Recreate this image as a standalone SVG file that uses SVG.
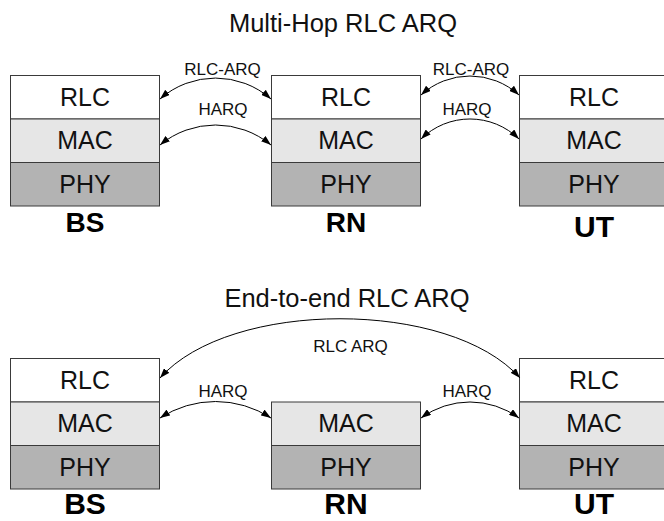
<svg xmlns="http://www.w3.org/2000/svg" width="664" height="521" viewBox="0 0 664 521">
<style>
.rlc{fill:#ffffff;stroke:#3a3a3a;stroke-width:1}
.mac{fill:#e6e6e6;stroke:#3a3a3a;stroke-width:1}
.phy{fill:#b3b3b3;stroke:#3a3a3a;stroke-width:1}
.t{font-family:"Liberation Sans",Arial,sans-serif;font-size:25px;fill:#111;text-anchor:middle}
.title{font-family:"Liberation Sans",Arial,sans-serif;font-size:25.5px;fill:#111;text-anchor:middle}
.lbl{font-family:"Liberation Sans",Arial,sans-serif;font-size:17px;fill:#111;text-anchor:middle}
.name{font-family:"Liberation Sans",Arial,sans-serif;font-size:28px;font-weight:bold;fill:#000;text-anchor:middle}
.arc{fill:none;stroke:#000;stroke-width:1;marker-start:url(#ah);marker-end:url(#ah)}
</style>
<defs>
<marker id="ah" markerUnits="userSpaceOnUse" markerWidth="10" markerHeight="7" refX="10" refY="3.5" orient="auto-start-reverse">
<path d="M0,0 L10,3.5 L0,7 z" fill="#000"/>
</marker>
</defs>
<rect width="664" height="521" fill="#fff"/>
<text class="title" x="343" y="32">Multi-Hop RLC ARQ</text>
<text class="title" x="347" y="306.5">End-to-end RLC ARQ</text>

<g id="bs-top">
<rect class="rlc" x="10.5" y="75.5" width="149" height="43.5"/>
<rect class="mac" x="10.5" y="119" width="149" height="43.5"/>
<rect class="phy" x="10.5" y="162.5" width="149" height="43.5"/>
<text class="t" x="85" y="105.5">RLC</text>
<text class="t" x="85" y="149">MAC</text>
<text class="t" x="85" y="192.5">PHY</text>
<text class="name" x="85" y="232">BS</text>
</g>
<g id="rn-top">
<rect class="rlc" x="271.5" y="75.5" width="149" height="43.5"/>
<rect class="mac" x="271.5" y="119" width="149" height="43.5"/>
<rect class="phy" x="271.5" y="162.5" width="149" height="43.5"/>
<text class="t" x="346" y="105.5">RLC</text>
<text class="t" x="346" y="149">MAC</text>
<text class="t" x="346" y="192.5">PHY</text>
<text class="name" x="346" y="232">RN</text>
</g>
<g id="ut-top">
<rect class="rlc" x="519.5" y="75.5" width="149" height="43.5"/>
<rect class="mac" x="519.5" y="119" width="149" height="43.5"/>
<rect class="phy" x="519.5" y="162.5" width="149" height="43.5"/>
<text class="t" x="594" y="105.5">RLC</text>
<text class="t" x="594" y="149">MAC</text>
<text class="t" x="594" y="192.5">PHY</text>
<text class="name" x="594" y="237" style="font-size:30px">UT</text>
</g>

<g id="bs-bottom">
<rect class="rlc" x="10.5" y="358.5" width="149" height="43.5"/>
<rect class="mac" x="10.5" y="402" width="149" height="43.5"/>
<rect class="phy" x="10.5" y="445.5" width="149" height="43.5"/>
<text class="t" x="85" y="388.5">RLC</text>
<text class="t" x="85" y="432">MAC</text>
<text class="t" x="85" y="475.5">PHY</text>
<text class="name" x="85" y="514" style="font-size:30px">BS</text>
</g>
<g id="rn-bottom">
<rect class="mac" x="271.5" y="402" width="149" height="43.5"/>
<rect class="phy" x="271.5" y="445.5" width="149" height="43.5"/>
<text class="t" x="346" y="432">MAC</text>
<text class="t" x="346" y="475.5">PHY</text>
<text class="name" x="346" y="514" style="font-size:30px">RN</text>
</g>
<g id="ut-bottom">
<rect class="rlc" x="519.5" y="358.5" width="149" height="43.5"/>
<rect class="mac" x="519.5" y="402" width="149" height="43.5"/>
<rect class="phy" x="519.5" y="445.5" width="149" height="43.5"/>
<text class="t" x="594" y="388.5">RLC</text>
<text class="t" x="594" y="432">MAC</text>
<text class="t" x="594" y="475.5">PHY</text>
<text class="name" x="594" y="514" style="font-size:30px">UT</text>
</g>

<g id="connectors">
<path class="arc" d="M160,99 A84,84 0 0 1 271,99"/>
<path class="arc" d="M160,145 A87,87 0 0 1 271,145"/>
<path class="arc" d="M421,95 A72.7,72.7 0 0 1 519,95"/>
<path class="arc" d="M421,139 A70,70 0 0 1 519,139"/>
<path class="arc" d="M160,378 C230,299 450,299 520,378"/>
<path class="arc" d="M160,418 A101.6,101.6 0 0 1 271,418"/>
<path class="arc" d="M421,418 A83,83 0 0 1 519,418"/>
<text class="lbl" x="222.5" y="74.5">RLC-ARQ</text>
<text class="lbl" x="223" y="115">HARQ</text>
<text class="lbl" x="471" y="75">RLC-ARQ</text>
<text class="lbl" x="467" y="115">HARQ</text>
<text class="lbl" x="350.5" y="352">RLC ARQ</text>
<text class="lbl" x="223" y="397">HARQ</text>
<text class="lbl" x="467" y="397">HARQ</text>
</g>
</svg>
